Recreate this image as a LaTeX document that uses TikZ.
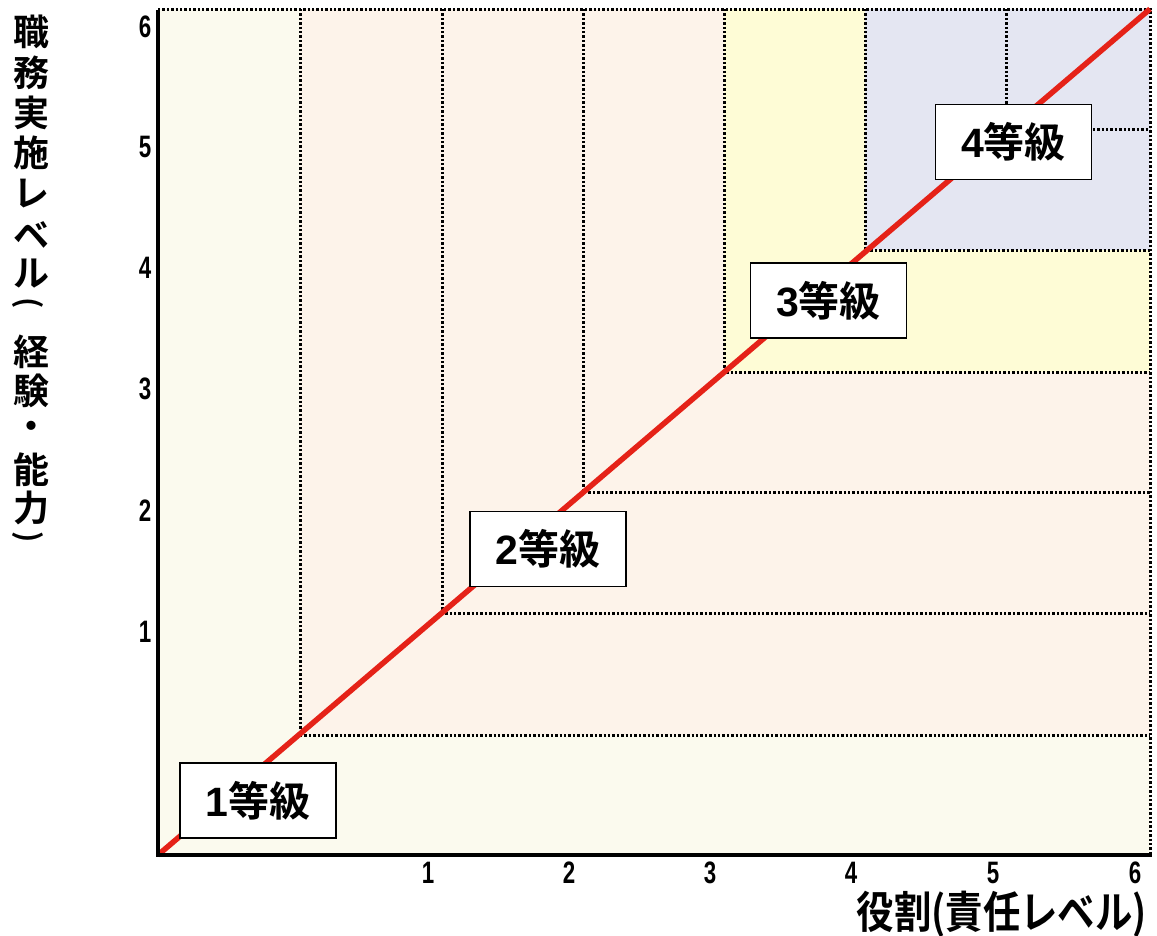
\documentclass[tikz,border=0pt]{standalone}
\usepackage{fontspec}
\setmainfont{Liberation Sans}
\newfontfamily\jpb{Noto Sans CJK JP Bold}
\newfontfamily\jpbn[FakeStretch=0.85]{Noto Sans CJK JP Bold}
\newfontfamily\numf[FakeStretch=0.72]{Liberation Sans Bold}
\newfontfamily\gradef{Liberation Sans Bold}
\definecolor{creamc}{HTML}{FBFAEE}
\definecolor{peachc}{HTML}{FDF3EA}
\definecolor{yellc}{HTML}{FEFCD6}
\definecolor{lavc}{HTML}{E4E6F2}
\definecolor{redc}{HTML}{E52218}
\tikzset{
  dotline/.style={line width=3pt, dash pattern=on 2.4pt off 2pt, black},
  axisline/.style={line width=4pt, black, line cap=rect},
  grade/.style={draw=black, line width=1.8pt, fill=white, minimum width=156pt, minimum height=75pt, inner sep=0pt, font=\jpb\fontsize{41}{41}\selectfont},
  tick/.style={font=\numf\fontsize{31}{31}\selectfont, inner sep=0pt},
  ytitle/.style={font=\jpb\fontsize{36}{36}\selectfont, inner sep=0pt},
}
\begin{document}
\begin{tikzpicture}[x=1pt,y=-1pt]
\useasboundingbox (0,0) rectangle (1157,935);
% coordinates
\coordinate (O) at (158,855);
\coordinate (TR) at (1150,9);
\coordinate (c1) at (300,735);
\coordinate (c2) at (442,613);
\coordinate (c3) at (583,492);
\coordinate (c4) at (724,372);
\coordinate (c5) at (865,250);
\coordinate (c6) at (1006,129);
% background regions
\fill[creamc] (158,9) rectangle (1150,855);
\fill[peachc] (300,9) rectangle (1150,735);
\fill[yellc] (724,9) rectangle (1150,372);
\fill[lavc] (865,9) rectangle (1150,250);
% dotted grid
\draw[dotline] (158,9) -- (1150,9) -- (1150,855);
\foreach \c in {c1,c2,c3,c4,c5,c6}{
  \draw[dotline] (\c |- TR) -- (\c) -- (\c -| TR);
}
% diagonal
\draw[redc, line width=5.5pt] (O) -- (TR);
% axes
\draw[axisline] (158,12) -- (O) -- (1150,855);
% grade boxes
\node[grade] (g1) at (258,800.5) {\gradef 1\jpb 等級};
\node[grade] (g2) at (548,549) {\gradef 2\jpb 等級};
\node[grade] (g3) at (828.5,300.5) {\gradef 3\jpb 等級};
\node[grade] (g4) at (1013.5,142) {\gradef 4\jpb 等級};
% y ticks
\node[tick] (y6) at (145,27) {6};
\node[tick] (y5) at (145,147) {5};
\node[tick] (y4) at (145,268) {4};
\node[tick] (y3) at (145,389) {3};
\node[tick] (y2) at (145,511) {2};
\node[tick] (y1) at (145,632) {1};
% x ticks
\node[tick] (x1) at (428,873) {1};
\node[tick] (x2) at (569,873) {2};
\node[tick] (x3) at (710,873) {3};
\node[tick] (x4) at (851,873) {4};
\node[tick] (x5) at (993,873) {5};
\node[tick] (x6) at (1135,873) {6};
% y title (vertical)
\node[ytitle] (t1) at (31,32) {職};
\node[ytitle] (t2) at (31,73) {務};
\node[ytitle] (t3) at (31,113) {実};
\node[ytitle] (t4) at (31,153) {施};
\node[ytitle] (t5) at (31,194) {レ};
\node[ytitle] (t6) at (31,235) {ベ};
\node[ytitle] (t7) at (31,274) {ル};
\node[ytitle, rotate=-90, font=\jpb\fontsize{30}{30}\selectfont] (t8) at (28,303) {(};
\node[ytitle] (t9) at (31,352) {経};
\node[ytitle] (t10) at (31,391) {験};
\node[ytitle] (t11) at (31,430) {・};
\node[ytitle] (t12) at (31,470) {能};
\node[ytitle] (t13) at (31,508) {力};
\node[ytitle, rotate=-90, font=\jpb\fontsize{30}{30}\selectfont] (t14) at (28,537) {)};
% x title
\node[font=\jpbn\fontsize{44}{44}\selectfont, inner sep=0pt, anchor=east] (xt) at (1147,914) {役割(責任レベル)};
\end{tikzpicture}
\end{document}
